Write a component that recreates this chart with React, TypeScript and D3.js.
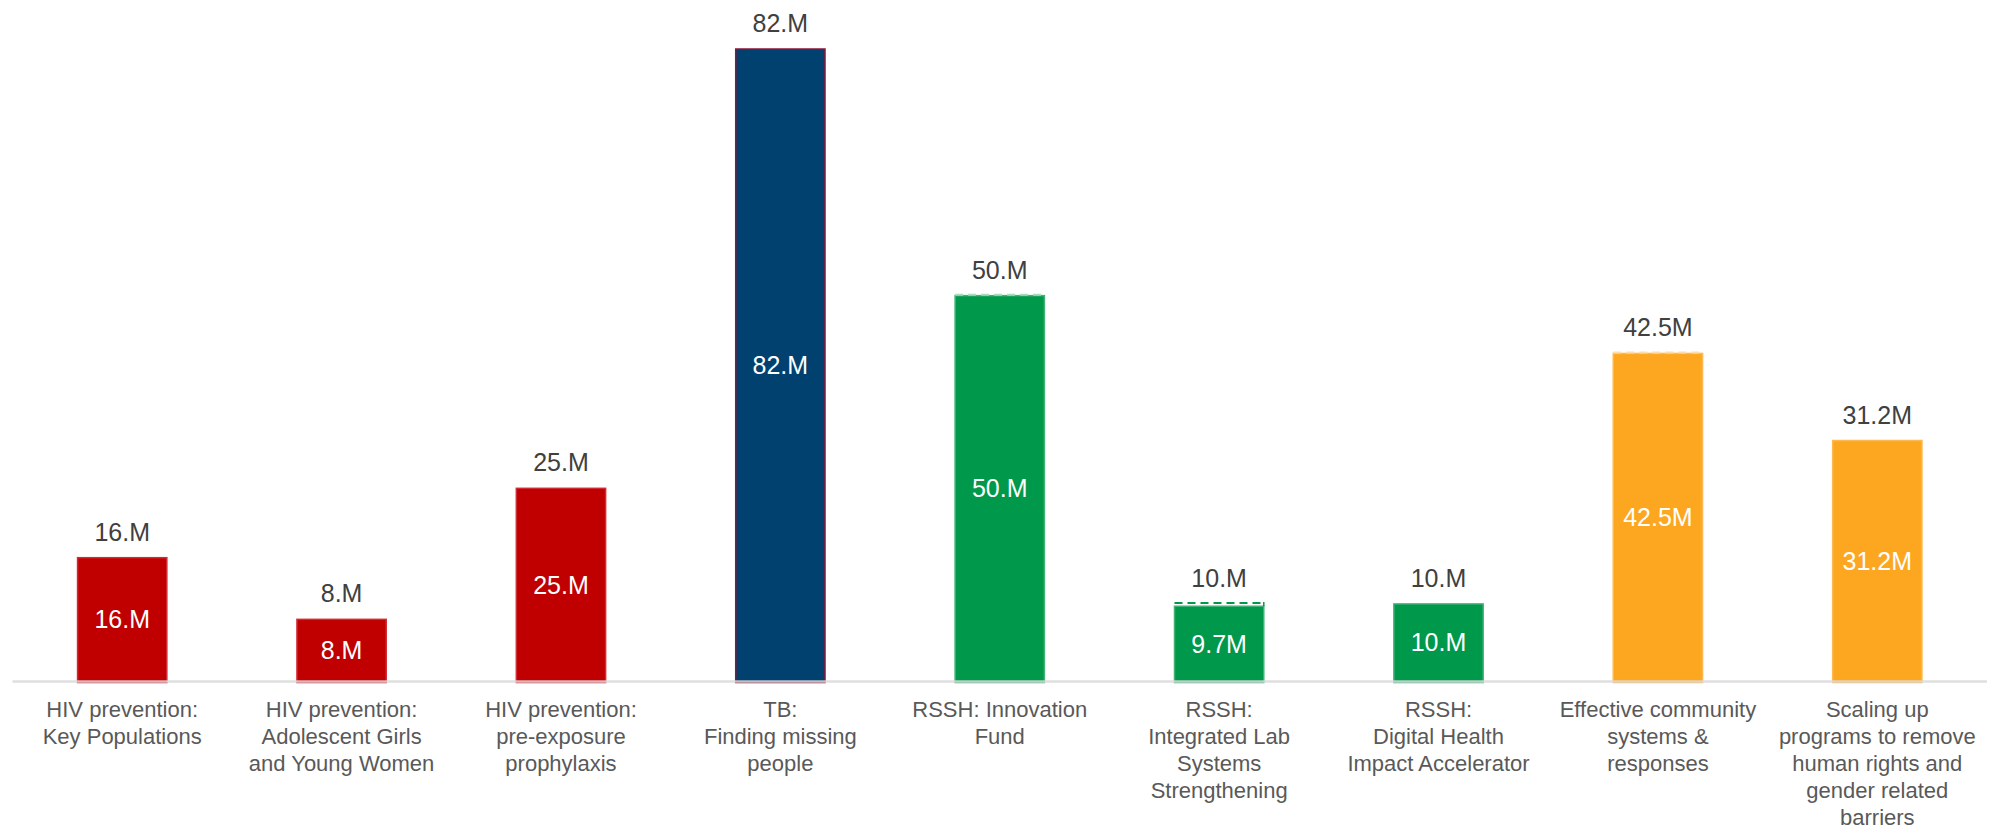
import React from "react";
import * as d3 from "d3";

const categoryLines: string[][] = [
  ["HIV prevention:", "Key Populations"],
  ["HIV prevention:", "Adolescent Girls", "and Young Women"],
  ["HIV prevention:", "pre-exposure", "prophylaxis"],
  ["TB:", "Finding missing", "people"],
  ["RSSH: Innovation", "Fund"],
  ["RSSH:", "Integrated Lab", "Systems", "Strengthening"],
  ["RSSH:", "Digital Health", "Impact Accelerator"],
  ["Effective community", "systems &", "responses"],
  ["Scaling up", "programs to remove", "human rights and", "gender related", "barriers"],
];
const fundedValues = [16, 8, 25, 82, 50, 9.7, 10, 42.5, 31.2];
const targetValues = [16, 8, 25, 82, 50, 10, 10, 42.5, 31.2];
const hasDashedTarget = [false, false, false, false, true, true, false, true, false];
const groups = ["HIV", "HIV", "HIV", "TB", "RSSH", "RSSH", "RSSH", "CRG", "CRG"];

const groupColor: Record<string, string> = {
  HIV: "#C00000",
  TB: "#00416F",
  RSSH: "#00994B",
  CRG: "#FDA721",
};
const groupBorder: Record<string, string> = {
  HIV: "#D22A35",
  TB: "#8A1538",
  RSSH: "#3FB274",
  CRG: "#FDB84E",
};
const groupPaleDash: Record<string, string> = {
  HIV: "#E89999",
  TB: "#99B3C5",
  RSSH: "#A9DCBF",
  CRG: "#FEDDA8",
};

const W = 1991;
const H = 830;
const baseY = 681;

const fmt = (v: number) => (Number.isInteger(v) ? `${v}.` : v.toFixed(1)) + "M";

export default function App() {
  const idx = d3.range(categoryLines.length);
  const x = d3
    .scaleBand<number>()
    .domain(idx)
    .range([12.5, 1987])
    .paddingInner(0.593)
    .paddingOuter(0.2965);
  const y = d3.scaleLinear().domain([0, 82]).range([baseY, 49]);
  const bw = x.bandwidth();

  return (
    <div style={{ position: "absolute", left: 0, top: 0 }}>
      <style>{`body{margin:0}`}</style>
      <svg width={W} height={H} style={{ display: "block", background: "#fff" }}
        fontFamily="Arial, 'Liberation Sans', sans-serif">
        {idx.map((i) => {
          const x0 = x(i)!;
          const cx = x0 + bw / 2;
          const g = groups[i];
          const v = fundedValues[i];
          const t = targetValues[i];
          const topFill = y(v);
          const topTarget = y(t);
          const dashColor = t > v ? groupColor[g] : groupPaleDash[g];
          return (
            <g key={i}>
              <rect
                x={x0}
                y={topFill}
                width={bw}
                height={baseY + 1.5 - topFill}
                fill={groupColor[g]}
                stroke={groupBorder[g]}
                strokeWidth={1.5}
              />
              {hasDashedTarget[i] && (
                <>
                  <line
                    x1={x0}
                    x2={x0 + bw}
                    y1={topTarget - 1}
                    y2={topTarget - 1}
                    stroke={dashColor}
                    strokeWidth={2}
                    strokeDasharray="8 5"
                  />
                  {t > v && (
                    <line
                      x1={x0 + bw}
                      x2={x0 + bw}
                      y1={topTarget - 2}
                      y2={topFill}
                      stroke={groupColor[g]}
                      strokeWidth={1.5}
                    />
                  )}
                </>
              )}
              <text
                x={cx}
                y={topTarget - 17}
                textAnchor="middle"
                fontSize={25}
                fill="#404040"
              >
                {fmt(t)}
              </text>
              <text
                x={cx}
                y={(topFill + baseY) / 2}
                textAnchor="middle"
                dominantBaseline="central"
                fontSize={25}
                fill="#ffffff"
              >
                {fmt(v)}
              </text>
              {categoryLines[i].map((line, k) => (
                <text
                  key={k}
                  x={cx}
                  y={716.5 + k * 27.2}
                  textAnchor="middle"
                  fontSize={22}
                  fill="#595959"
                >
                  {line}
                </text>
              ))}
            </g>
          );
        })}
        <line
          x1={12.5}
          x2={1987}
          y1={baseY + 0.5}
          y2={baseY + 0.5}
          stroke="#D9D9D9"
          strokeOpacity={0.85}
          strokeWidth={2.5}
        />
      </svg>
    </div>
  );
}
